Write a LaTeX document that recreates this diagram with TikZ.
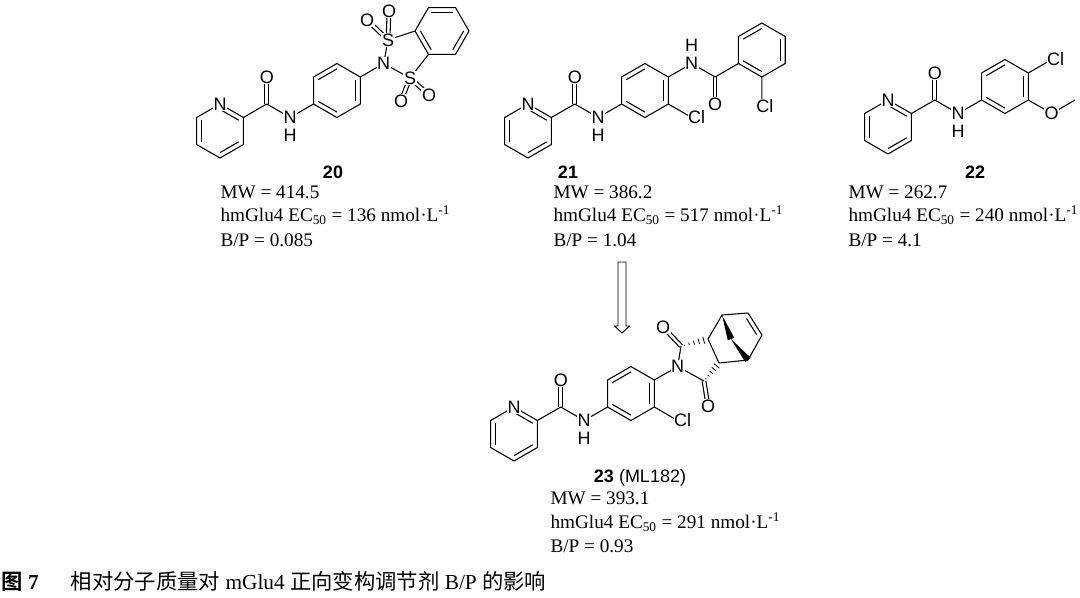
\documentclass[tikz,border=0pt]{standalone}
\usepackage{fontspec}
\setmainfont{Liberation Serif}
\setsansfont{Liberation Sans}
\newfontfamily\cjk{Noto Sans CJK SC}[BoldFont={Noto Sans CJK SC Bold}]
\usetikzlibrary{calc}
\newcommand\hexc[2]{%
 \path (#1) ++(-90:27) coordinate (#2a);
 \path (#1) ++(-30:27) coordinate (#2b);
 \path (#1) ++(30:27) coordinate (#2c);
 \path (#1) ++(90:27) coordinate (#2d);
 \path (#1) ++(150:27) coordinate (#2e);
 \path (#1) ++(210:27) coordinate (#2f);
 \draw (#2a)--(#2b)--(#2c)--(#2d)--(#2e)--(#2f)--cycle;}
\newcommand\inb[3]{\draw ($(#1)!0.2!(#3)$) -- ($(#2)!0.2!(#3)$);}
\newcommand\dbo[2]{\draw ($(#1)!1.4pt!90:(#2)$) -- ($(#2)!1.4pt!-90:(#1)$);
 \draw ($(#1)!1.4pt!-90:(#2)$) -- ($(#2)!1.4pt!90:(#1)$);}
\newcommand\hashw[2]{\foreach \t in {0.12,0.3,0.48,0.66,0.84,1.0}{%
 \path ($(#1)!\t!(#2)$) coordinate (hw);
 \draw[line width=0.6pt] ($(hw)!{\t*3.2pt}!90:(#2)$) -- ($(hw)!{\t*3.2pt}!-90:(#2)$);}}
\newcommand\solw[2]{\fill (#1) -- ($(#2)!2.6pt!90:(#1)$) -- ($(#2)!2.6pt!-90:(#1)$) -- cycle;}
\newcommand\amide[2]{% pyridine centre name #1, prefix #2
 \hexc{#1}{#2p}\inb{#2pf}{#2pe}{#1}\inb{#2pd}{#2pc}{#1}\inb{#2pa}{#2pb}{#1}
 \path (#2pb) ++(-30:27) coordinate (#2c);
 \path (#2c) ++(-90:27) coordinate (#2o);
 \path (#2c) ++(30:27) coordinate (#2n);
 \path (#2n) ++(-30:54) coordinate (#2ph);
 \draw (#2pb)--(#2c)--(#2n);
 \dbo{#2c}{#2o}
 \hexc{#2ph}{#2h}\inb{#2hf}{#2ha}{#2ph}\inb{#2hb}{#2hc}{#2ph}\inb{#2hd}{#2he}{#2ph}
 \draw (#2n)--(#2he);
 \node[atom] (#2Npy) at (#2pa) {N};
 \node[atom] (#2O) at (#2o) {O};
 \node[atom] (#2N) at (#2n) {N};
 \node[atom] (#2H) at ($(#2n)+(0,18)$) {H};}
\begin{document}
\begin{tikzpicture}[x=0.75pt,y=-0.75pt,line width=0.8pt,line join=round,
 atom/.style={fill=white,inner sep=0.5pt,font=\sffamily\fontsize{13.5}{13.5}\selectfont},
 info/.style={anchor=west,inner sep=0pt,font=\fontsize{14.4}{14.4}\selectfont},
 cmpd/.style={inner sep=0pt,font=\sffamily\bfseries\fontsize{13.5}{13.5}\selectfont}]
\useasboundingbox (0,0) rectangle (1080,597);
% ---------- 20
\coordinate (P1) at (220,131);
\amide{P1}{a}
\path (ahb) ++(-30:27) coordinate (ns);
\coordinate (bz1) at (442,31);
\path (bz1) ++(180:27) coordinate (bzL) (bz1) ++(-120:27) coordinate (bzTL)
 (bz1) ++(-60:27) coordinate (bzTR) (bz1) ++(0:27) coordinate (bzR)
 (bz1) ++(60:27) coordinate (bzBR) (bz1) ++(120:27) coordinate (bzBL);
\draw (bzL)--(bzTL)--(bzTR)--(bzR)--(bzBR)--(bzBL)--cycle;
\inb{bzTL}{bzTR}{bz1}\inb{bzR}{bzBR}{bz1}\inb{bzBL}{bzL}{bz1}
\coordinate (s1) at (388,40); \coordinate (s2) at (410,78);
\coordinate (os1) at (367,20); \coordinate (os2) at (389,11);
\coordinate (os3) at (401,101); \coordinate (os4) at (429,95);
\draw (ahb)--(ns)--(s1)--(bzL) (bzBL)--(s2)--(ns);
\dbo{s1}{os1}\dbo{s1}{os2}\dbo{s2}{os3}\dbo{s2}{os4}
\node[atom] (NS) at (ns) {N};
\node[atom] (S1) at (s1) {S};
\node[atom] (S2) at (s2) {S};
\node[atom] (O1) at (os1) {O};
\node[atom] (O2) at (os2) {O};
\node[atom] (O3) at (os3) {O};
\node[atom] (O4) at (os4) {O};
\node[cmpd] (L20) at (333,172) {20};
\node[info] (t20a) at (220,192) {MW = 414.5};
\node[info] (t20b) at (220,215) {hmGlu4 EC\textsubscript{50} = 136 nmol·L\textsuperscript{-1}};
\node[info] (t20c) at (220,240) {B/P = 0.085};
% ---------- 21
\coordinate (P2) at (528,131);
\amide{P2}{b}
\path (bhc) ++(30:27) coordinate (cl1);
\path (bhb) ++(-30:27) coordinate (n2);
\path (n2) ++(30:27) coordinate (c2);
\path (c2) ++(90:27) coordinate (o2);
\path (c2) ++(-30:54) coordinate (bz2);
\hexc{bz2}{z}\inb{zf}{za}{bz2}\inb{zb}{zc}{bz2}\inb{zd}{ze}{bz2}
\path (zd) ++(90:27) coordinate (cl2);
\draw (bhc)--(cl1) (bhb)--(n2)--(c2)--(ze) (zd)--(cl2);
\dbo{c2}{o2}
\node[atom] (CL1) at ($(cl1)+(5,0)$) {Cl};
\node[atom] (N2) at (n2) {N};
\node[atom] (H2) at ($(n2)+(0,-18)$) {H};
\node[atom] (O2b) at (o2) {O};
\node[atom] (CL2) at ($(cl2)+(3,2)$) {Cl};
\node[cmpd] (L21) at (568,172) {21};
\node[info] (t21a) at (553,192) {MW = 386.2};
\node[info] (t21b) at (553,215) {hmGlu4 EC\textsubscript{50} = 517 nmol·L\textsuperscript{-1}};
\node[info] (t21c) at (553,240) {B/P = 1.04};
% ---------- 22
\coordinate (P3) at (888,127);
\amide{P3}{c}
\path (chb) ++(-30:27) coordinate (cl3);
\path (chc) ++(30:27) coordinate (o3);
\path (o3) ++(-30:27) coordinate (me);
\draw (chb)--(cl3) (chc)--(o3)--(me);
\node[atom] (CL3) at ($(cl3)+(4,0)$) {Cl};
\node[atom] (O3b) at (o3) {O};
\node[cmpd] (L22) at (975,172) {22};
\node[info] (t22a) at (848,192) {MW = 262.7};
\node[info] (t22b) at (848,215) {hmGlu4 EC\textsubscript{50} = 240 nmol·L\textsuperscript{-1}};
\node[info] (t22c) at (848,240) {B/P = 4.1};
% ---------- arrow
\draw[line width=0.7pt] (618,262) -- (626,262) -- (626,326) -- (629.5,326) -- (622,333) -- (614.5,326) -- (618,326) -- cycle;
% ---------- 23
\coordinate (P4) at (514,434);
\amide{P4}{d}
\path (dhc) ++(30:27) coordinate (cl4);
\path (dhb) ++(-30:27) coordinate (ni);
\coordinate (k1) at (681,346); \coordinate (ko1) at (663,327);
\coordinate (k3a) at (708,339); \coordinate (k6a) at (719,363);
\coordinate (k3) at (704,381); \coordinate (ko3) at (708,406);
\coordinate (kb1) at (722,315); \coordinate (kd1) at (748,313);
\coordinate (kd2) at (762,335); \coordinate (kb2) at (748,360);
\coordinate (km) at (731,339);
\draw (dhc)--(cl4) (dhb)--(ni)--(k1) (ni)--(k3);
\dbo{k1}{ko1}\dbo{k3}{ko3}
\hashw{k1}{k3a}\hashw{k3}{k6a}
\draw (k3a)--(k6a) (k3a)--(kb1)--(kd1)--(kd2)--(kb2)--(k6a);
\draw (746.5,318.5) -- (756.5,334.5);
\solw{kb1}{km}\solw{km}{kb2}
\node[atom] (CL4) at ($(cl4)+(5,0)$) {Cl};
\node[atom] (NI) at (ni) {N};
\node[atom] (KO1) at (ko1) {O};
\node[atom] (KO3) at (ko3) {O};
\node[inner sep=0pt,font=\sffamily\fontsize{13.5}{13.5}\selectfont] (L23) at (640,478) {\textbf{23} (ML182)};
\node[info] (t23a) at (550,498) {MW = 393.1};
\node[info] (t23b) at (550,522) {hmGlu4 EC\textsubscript{50} = 291 nmol·L\textsuperscript{-1}};
\node[info] (t23c) at (550,546) {B/P = 0.93};
% ---------- caption
\node[anchor=west,inner sep=0pt,font=\fontsize{16}{16}\selectfont] (cap) at (1,581)
 {{\cjk\bfseries 图} \textbf{7}\hspace{1.5em}{\cjk 相对分子质量对} mGlu4 {\cjk 正向变构调节剂} B/P {\cjk 的影响}};
\end{tikzpicture}
\end{document}
